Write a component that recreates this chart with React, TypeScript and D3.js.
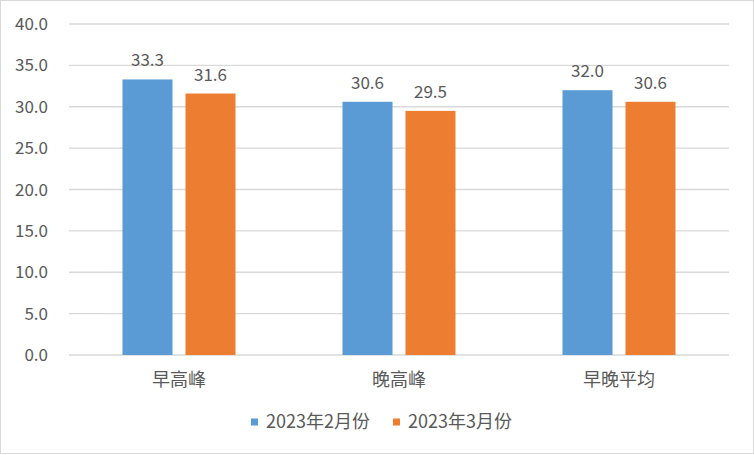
import * as d3 from "d3";

const categories = ["早高峰", "晚高峰", "早晚平均"];
const seriesNames = ["2023年2月份", "2023年3月份"];
const feb = [33.3, 30.6, 32.0];
const mar = [31.6, 29.5, 30.6];
const yTicks = [0, 5, 10, 15, 20, 25, 30, 35, 40];

const COLORS = ["#5B9BD5", "#ED7D31"];
const W = 754;
const H = 455;
const PLOT = { left: 69, right: 729, top: 24, bottom: 355 };
const FONT = "'Noto Sans CJK SC', 'Noto Sans', sans-serif";
const TEXT = "#595959";

export default function App() {
  const values = [feb, mar];

  const x = d3.scaleBand<string>().domain(categories).range([PLOT.left, PLOT.right]);
  const xSub = d3
    .scaleBand<string>()
    .domain(seriesNames)
    .range([-56.5, 56.5])
    .paddingInner(0.206);
  const y = d3.scaleLinear().domain([0, 40]).range([PLOT.bottom, PLOT.top]);

  return (
    <svg
      width={W}
      height={H}
      style={{ position: "absolute", left: 0, top: 0, display: "block" }}
      fontFamily={FONT}
    >
      <rect x={0.5} y={0.5} width={W - 1} height={H - 2} fill="#fff" stroke="#d9d9d9" />

      {/* gridlines + y labels */}
      {yTicks.map((t) => (
        <g key={t}>
          <line
            x1={PLOT.left}
            x2={PLOT.right}
            y1={y(t)}
            y2={y(t)}
            stroke="#d9d9d9"
            strokeWidth={1.3}
          />
          <text
            x={48}
            y={y(t)}
            dy="0.36em"
            textAnchor="end"
            fontSize={17}
            fill={TEXT}
          >
            {t.toFixed(1)}
          </text>
        </g>
      ))}

      {/* bars */}
      {categories.map((c, i) => (
        <g key={c}>
          {seriesNames.map((s, j) => {
            const bx = (x(c) ?? 0) + x.bandwidth() / 2 + (xSub(s) ?? 0);
            const v = values[j][i];
            return (
              <g key={s}>
                <rect
                  x={bx}
                  y={y(v)}
                  width={xSub.bandwidth()}
                  height={y(0) - y(v)}
                  fill={COLORS[j]}
                />
                <text
                  x={bx + xSub.bandwidth() / 2}
                  y={y(v) - 13}
                  textAnchor="middle"
                  fontSize={17}
                  fill={TEXT}
                >
                  {v.toFixed(1)}
                </text>
              </g>
            );
          })}
          <text
            x={(x(c) ?? 0) + x.bandwidth() / 2}
            y={380}
            dy="0.36em"
            textAnchor="middle"
            fontSize={18}
            fill={TEXT}
          >
            {c}
          </text>
        </g>
      ))}

      {/* legend */}
      {seriesNames.map((s, j) => {
        const lx = [251, 393][j];
        return (
          <g key={s}>
            <rect x={lx} y={418.5} width={7} height={7} fill={COLORS[j]} />
            <text x={lx + 15} y={422} dy="0.36em" fontSize={18} fill={TEXT}>
              {s}
            </text>
          </g>
        );
      })}
    </svg>
  );
}
